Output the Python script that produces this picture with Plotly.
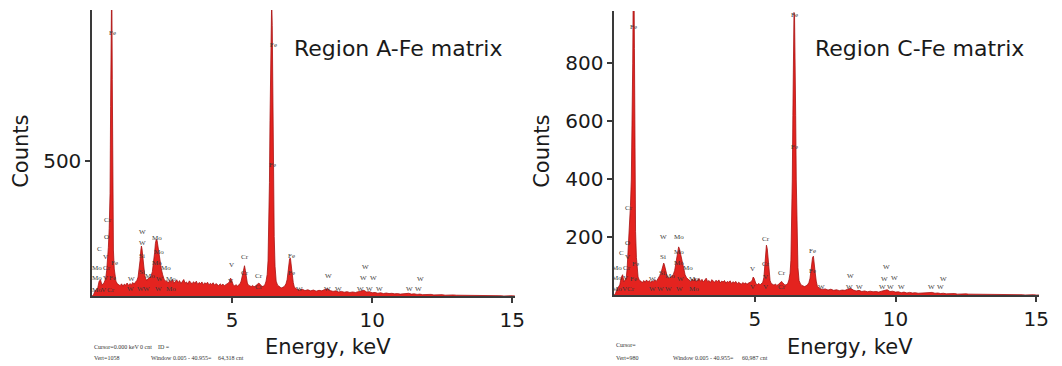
import plotly.graph_objects as go

# ---------------- data ----------------
energy_keV = [
    0.00, 0.05, 0.10, 0.15, 0.20, 0.25, 0.30, 0.35, 0.40,
    0.43, 0.46, 0.49, 0.52, 0.55, 0.58, 0.61, 0.64, 0.66, 0.68, 0.70, 0.72, 0.74, 0.76, 0.79, 0.82, 0.85, 0.90,
    0.95, 1.00, 1.05, 1.10, 1.15, 1.20, 1.25, 1.30, 1.35, 1.40, 1.45, 1.50, 1.55, 1.60,
    1.64, 1.68, 1.71, 1.74, 1.76, 1.78, 1.81, 1.84, 1.88, 1.92, 1.96,
    2.00, 2.05, 2.10, 2.15,
    2.19, 2.23, 2.26, 2.29, 2.32, 2.35, 2.39, 2.43, 2.47, 2.52, 2.57, 2.62,
    2.67, 2.72, 2.77, 2.82, 2.87, 2.92, 2.97, 3.02, 3.07, 3.12,
    3.17, 3.22, 3.27, 3.32, 3.37, 3.42, 3.47, 3.52, 3.57, 3.62,
    3.67, 3.72, 3.77, 3.82, 3.87, 3.92, 3.97, 4.02, 4.07, 4.12,
    4.17, 4.22, 4.27, 4.32, 4.37, 4.42, 4.47, 4.52, 4.57, 4.62,
    4.67, 4.72, 4.77, 4.82,
    4.87, 4.91, 4.94, 4.97, 5.00, 5.04,
    5.09, 5.14, 5.19, 5.24, 5.28,
    5.32, 5.35, 5.38, 5.41, 5.44, 5.47, 5.50, 5.54, 5.58,
    5.63, 5.68, 5.73, 5.78, 5.83,
    5.88, 5.92, 5.95, 5.98, 6.02,
    6.07, 6.12, 6.17, 6.21,
    6.25, 6.28, 6.31, 6.33, 6.35, 6.37, 6.39, 6.41, 6.43, 6.45, 6.47, 6.50, 6.53, 6.57,
    6.62, 6.67, 6.72, 6.77, 6.82, 6.87, 6.92,
    6.96, 6.99, 7.02, 7.05, 7.08, 7.11, 7.14, 7.18, 7.22,
    7.3, 7.4, 7.5, 7.6, 7.7, 7.8, 7.9, 8.0, 8.1, 8.2,
    8.3, 8.4, 8.5, 8.6, 8.7, 8.8, 8.9, 9.0, 9.1, 9.2,
    9.3, 9.4, 9.5, 9.6, 9.7, 9.8, 9.9, 10.0, 10.1, 10.2,
    10.3, 10.4, 10.5, 10.6, 10.7, 10.8, 10.9, 11.0, 11.1, 11.2,
    11.3, 11.4, 11.5, 11.6, 11.7, 11.8, 11.9, 12.0, 12.1, 12.2,
    12.3, 12.4, 12.5, 12.6, 12.7, 12.8, 12.9, 13.0, 13.1, 13.2,
    13.3, 13.4, 13.5, 13.6, 13.7, 13.8, 13.9, 14.0, 14.1, 14.2,
    14.3, 14.4, 14.5, 14.6, 14.7, 14.8, 14.9, 15.0, 15.1,
]

counts_A = [
    0, 5, 18, 25, 30, 55, 60, 40, 45,
    50, 58, 70, 95, 130, 180, 250, 380, 700, 1100, 1200, 800, 350, 170, 100, 70, 55, 45,
    42, 38, 45, 36, 44, 40, 48, 39, 46, 41, 50, 44, 52, 58,
    70, 95, 130, 170, 185, 175, 140, 100, 75, 62, 58,
    65, 70, 72, 90,
    120, 160, 195, 210, 205, 180, 150, 125, 100, 78, 62, 55,
    55, 48, 58, 50, 62, 47, 55, 60, 49, 57,
    46, 54, 61, 48, 52, 44, 56, 50, 45, 53,
    47, 55, 43, 50, 46, 52, 42, 49, 45, 51,
    41, 47, 43, 49, 40, 46, 42, 38, 45, 40,
    44, 38, 42, 45,
    48, 55, 66, 62, 48, 40,
    38, 42, 37, 40, 45,
    55, 70, 85, 108, 112, 95, 65, 48, 40,
    38, 35, 39, 34, 37,
    40, 45, 48, 44, 38,
    35, 37, 42, 55,
    80, 130, 250, 420, 650, 900, 1080, 1100, 1000, 750, 480, 220, 110, 55,
    40, 34, 32, 30, 33, 36, 45,
    60, 85, 115, 138, 140, 120, 85, 50, 32,
    26, 22, 25, 20, 23, 19, 22, 18, 21, 19,
    24, 27, 20, 17, 19, 15, 17, 14, 16, 13,
    15, 13, 16, 19, 21, 15, 16, 12, 13, 10,
    12, 9, 11, 9, 10, 8, 9, 7, 8, 9,
    10, 7, 8, 6, 7, 5, 6, 5, 6, 4,
    5, 4, 5, 3, 4, 3, 4, 3, 3, 2,
    3, 2, 3, 2, 2, 1, 2, 1, 2, 1,
    1, 1, 1, 1, 0, 1, 0, 1, 0,
]

counts_C = [
    0, 6, 20, 28, 35, 60, 70, 45, 55,
    60, 90, 140, 200, 260, 310, 400, 560, 800, 1100, 1150, 850, 420, 220, 130, 85, 62, 50,
    48, 42, 50, 44, 52, 45, 50, 43, 49, 46, 53, 47, 55, 62,
    70, 82, 95, 105, 110, 106, 92, 78, 66, 60, 58,
    62, 66, 70, 85,
    110, 140, 160, 166, 160, 145, 125, 105, 88, 70, 60, 55,
    52, 46, 55, 49, 58, 45, 53, 57, 47, 54,
    45, 51, 58, 46, 50, 43, 53, 48, 44, 51,
    46, 52, 42, 48, 45, 50, 41, 47, 44, 49,
    40, 46, 42, 47, 39, 44, 41, 37, 43, 39,
    42, 37, 41, 44,
    46, 52, 62, 58, 45, 38,
    36, 40, 35, 39, 44,
    60, 95, 140, 172, 160, 120, 80, 50, 40,
    37, 34, 38, 33, 36,
    40, 44, 47, 43, 37,
    34, 36, 40, 52,
    75, 120, 230, 400, 620, 860, 975, 960, 850, 620, 400, 190, 95, 50,
    38, 33, 31, 29, 32, 35, 43,
    58, 82, 110, 130, 134, 115, 80, 48, 30,
    22, 19, 21, 17, 20, 16, 18, 15, 17, 16,
    20, 23, 17, 14, 16, 12, 14, 11, 13, 11,
    12, 10, 13, 16, 18, 12, 13, 10, 11, 8,
    10, 7, 9, 7, 8, 6, 7, 6, 7, 8,
    9, 6, 7, 5, 6, 4, 5, 4, 5, 3,
    4, 3, 4, 3, 3, 2, 3, 2, 2, 2,
    2, 2, 2, 1, 2, 1, 1, 1, 1, 1,
    1, 1, 1, 0, 1, 0, 1, 0, 0,
]

assert len(energy_keV) == len(counts_A) == len(counts_C)

x_tick_vals = [5, 10, 15]
y_tick_vals_A = [500]
y_tick_vals_C = [200, 400, 600, 800]
vert_A = 1058
vert_C = 980
title_A = "Region A-Fe matrix"
title_C = "Region C-Fe matrix"

# instrument read-out text: (text, left-x px, centre-y px)
info_A = [("Cursor=0.000 keV", 93, 347), ("0 cnt", 139, 347), ("ID =", 157, 347),
          ("Vert=1058", 93, 358), ("Window 0.005 - 40.955=", 150, 358), ("64,318 cnt", 218, 358)]
info_C = [("Cursor=", 620, 345),
          ("Vert=980", 620, 358), ("Window 0.005 - 40.955=", 677, 358), ("60,987 cnt", 747, 358)]

# element line markers: (symbol, keV, counts)
labels_A = [
    ("Fe", 0.71, 974), ("Cr", 0.57, 283), ("O", 0.53, 217), ("C", 0.28, 173),
    ("V", 0.49, 143), ("Fe", 0.81, 121), ("Mo", 0.18, 103), ("Cr", 0.53, 103),
    ("Mo", 0.18, 66), ("V", 0.46, 66), ("Fe", 0.71, 66),
    ("Mo", 0.18, 22), ("V", 0.42, 22), ("Cr", 0.67, 22),
    ("W", 1.80, 235), ("W", 1.80, 195), ("Si", 1.77, 147), ("Si", 1.77, 88), ("Mo", 2.05, 74),
    ("W", 1.41, 62), ("W", 1.38, 26), ("W", 1.73, 26), ("W", 1.94, 26), ("W", 2.37, 26),
    ("Mo", 2.30, 213), ("Mo", 2.37, 162), ("Mo", 2.30, 121), ("Mo", 2.65, 103),
    ("Mo", 2.83, 62), ("Mo", 2.83, 26), ("W", 2.40, 62),
    ("Fe", 6.47, 930), ("Fe", 6.43, 485),
    ("V", 4.98, 114), ("V", 4.95, 55),
    ("Cr", 5.44, 143), ("Cr", 5.44, 85), ("Cr", 5.97, 74), ("Cr", 5.97, 33),
    ("Fe", 7.10, 147), ("Fe", 7.10, 85),
    ("W", 7.42, 26), ("W", 8.45, 74), ("W", 8.41, 26), ("W", 8.80, 26),
    ("W", 9.75, 107), ("W", 9.68, 66), ("W", 10.04, 66),
    ("W", 9.58, 26), ("W", 9.89, 26), ("W", 10.25, 26),
    ("W", 11.73, 62), ("W", 11.34, 26), ("W", 11.66, 26),
]
labels_C = [
    ("Fe", 0.67, 924), ("Cr", 0.53, 300), ("O", 0.49, 179), ("C", 0.25, 145),
    ("V", 0.49, 131), ("Fe", 0.77, 107), ("Mo", 0.11, 93), ("Cr", 0.46, 93),
    ("Mo", 0.11, 59), ("V", 0.42, 59), ("Fe", 0.67, 55),
    ("Mo", 0.11, 21), ("V", 0.35, 21), ("Cr", 0.60, 21),
    ("W", 1.76, 200), ("Si", 1.73, 131), ("Si", 1.69, 76), ("Mo", 1.99, 66),
    ("W", 1.37, 55), ("W", 1.37, 21), ("W", 1.65, 21), ("W", 1.93, 21), ("W", 2.32, 21),
    ("Mo", 2.29, 200), ("Mo", 2.32, 148), ("Mo", 2.29, 110), ("Mo", 2.61, 93),
    ("W", 2.36, 55), ("Mo", 2.85, 55), ("Mo", 2.85, 21),
    ("Fe", 6.41, 966), ("Fe", 6.41, 510),
    ("V", 4.93, 90), ("V", 4.93, 28),
    ("Cr", 5.39, 193), ("Cr", 5.39, 107), ("V", 5.39, 62), ("V", 5.39, 28),
    ("Cr", 5.95, 76), ("Cr", 5.95, 28),
    ("Fe", 7.04, 152), ("Fe", 7.04, 83),
    ("W", 7.36, 28), ("W", 8.38, 66), ("W", 8.35, 28), ("W", 8.73, 28),
    ("W", 9.68, 97), ("W", 9.61, 55), ("W", 9.96, 59),
    ("W", 9.54, 28), ("W", 9.82, 28), ("W", 10.21, 28),
    ("W", 11.69, 55), ("W", 11.27, 28), ("W", 11.58, 28),
]

# ---------------- styling / layout ----------------
W, H = 1062, 366
SANS = "DejaVu Sans, Verdana, sans-serif"
SERIF = "Liberation Serif, Times New Roman, serif"
RED_FILL = "#e4231f"
RED_LINE = "#a81212"
AXIS_COL = "#3a3a3a"
TXT_COL = "#1a1a1a"

fig = go.Figure()
fig.add_trace(go.Scatter(x=energy_keV, y=counts_A, mode="lines", fill="tozeroy",
                         fillcolor=RED_FILL, line=dict(color=RED_LINE, width=0.8),
                         xaxis="x", yaxis="y", showlegend=False, hoverinfo="skip"))
fig.add_trace(go.Scatter(x=energy_keV, y=counts_C, mode="lines", fill="tozeroy",
                         fillcolor=RED_FILL, line=dict(color=RED_LINE, width=0.8),
                         xaxis="x2", yaxis="y2", showlegend=False, hoverinfo="skip"))

def xaxis(domain, anchor):
    return dict(domain=domain, range=[0, 15.1], tickvals=x_tick_vals, anchor=anchor,
                ticks="outside", ticklen=5, tickwidth=1.5, tickcolor=AXIS_COL,
                showline=True, linecolor=AXIS_COL, linewidth=1.5,
                showgrid=False, zeroline=False,
                tickfont=dict(family=SANS, size=20, color=TXT_COL))

def yaxis(domain, rng, ticks, anchor):
    return dict(domain=domain, range=rng, tickvals=ticks, anchor=anchor,
                ticks="outside", ticklen=5, tickwidth=1.5, tickcolor=AXIS_COL,
                showline=True, linecolor=AXIS_COL, linewidth=1.5,
                showgrid=False, zeroline=False,
                tickfont=dict(family=SANS, size=20, color=TXT_COL))

xdomA = [93 / W, 520 / W]
xdomC = [620 / W, 1049 / W]
ydomA = [(H - 296) / H, (H - 10) / H]
ydomC = [(H - 295) / H, (H - 11) / H]

annotations = []
for txt, xc in [("Energy, keV", 331), ("Energy, keV", 858)]:
    annotations.append(dict(text=txt, x=xc / W, y=(H - 347) / H, xref="paper", yref="paper",
                            showarrow=False, xanchor="center", yanchor="middle",
                            font=dict(family=SANS, size=21, color=TXT_COL)))
for xc in [21, 547]:
    annotations.append(dict(text="Counts", x=xc / W, y=(H - 151) / H, xref="paper", yref="paper",
                            showarrow=False, textangle=-90, xanchor="center", yanchor="middle",
                            font=dict(family=SANS, size=21, color=TXT_COL)))
for txt, xl in [(title_A, 295), (title_C, 821)]:
    annotations.append(dict(text=txt, x=xl / W, y=(H - 48) / H, xref="paper", yref="paper",
                            showarrow=False, xanchor="left", yanchor="middle",
                            font=dict(family=SANS, size=22, color=TXT_COL)))

for labels, xr, yr in [(labels_A, "x", "y"), (labels_C, "x2", "y2")]:
    for sym, e, c in labels:
        annotations.append(dict(text=sym, x=e, y=c, xref=xr, yref=yr, showarrow=False,
                                xanchor="center", yanchor="middle",
                                font=dict(family=SERIF, size=7, color="#3a3a3a")))

for info in (info_A, info_C):
    for txt, xl, yc in info:
        annotations.append(dict(text=txt, x=xl / W, y=(H - yc) / H, xref="paper", yref="paper",
                                showarrow=False, xanchor="left", yanchor="middle",
                                font=dict(family=SERIF, size=6, color="#333333")))

fig.update_layout(
    width=W, height=H, margin=dict(l=0, r=0, t=0, b=0),
    paper_bgcolor="white", plot_bgcolor="white",
    xaxis=xaxis(xdomA, "y"),
    yaxis=yaxis(ydomA, [0, vert_A], y_tick_vals_A, "x"),
    xaxis2=xaxis(xdomC, "y2"),
    yaxis2=yaxis(ydomC, [0, vert_C], y_tick_vals_C, "x2"),
    annotations=annotations,
    showlegend=False,
)

fig.write_html("out.html")
